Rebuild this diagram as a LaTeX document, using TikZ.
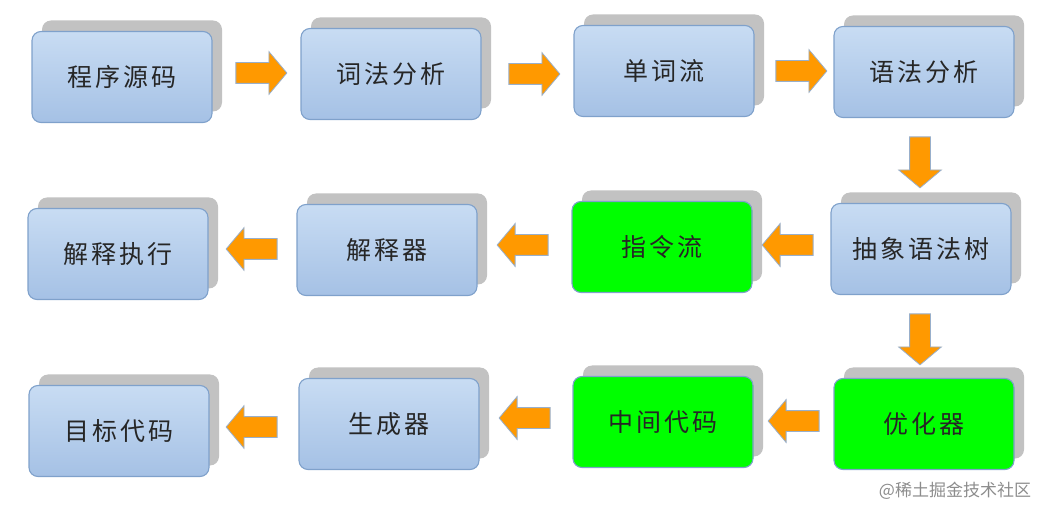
\documentclass[tikz,border=0pt]{standalone}
\usepackage{fontspec}
\newfontfamily\cjk[LetterSpace=12]{Noto Sans CJK SC}
\newfontfamily\cjkplain{Noto Sans CJK SC}
\usetikzlibrary{shapes.arrows,shadows,calc}
\definecolor{boxtop}{HTML}{C8DCF3}
\definecolor{boxbot}{HTML}{A5C1E5}
\definecolor{boxline}{HTML}{7FA1CB}
\definecolor{shadowgray}{HTML}{C2C2C2}
\definecolor{arrfill}{HTML}{FF9900}
\definecolor{arrline}{HTML}{98AFCB}
\definecolor{greenbox}{HTML}{00FF00}
\tikzset{
  stage/.style={rounded corners=9pt, minimum width=180pt, minimum height=91pt,
    draw=boxline, line width=1.1pt, top color=boxtop, bottom color=boxbot,
    font=\cjk\fontsize{25}{28}\selectfont, text=black!85,
    general shadow={shadow xshift=10pt, shadow yshift=11pt, fill=shadowgray, draw=none}},
  hot/.style={stage, fill=greenbox, top color=greenbox, bottom color=greenbox},
  blockarrow/.style={single arrow, draw=arrline, fill=arrfill, line width=0.8pt,
    minimum height=51pt, inner sep=10pt, single arrow head extend=11pt,
    single arrow tip angle=100},
  toright/.style={blockarrow},
  toleft/.style={blockarrow, shape border rotate=180},
  todown/.style={blockarrow, shape border rotate=270},
}
\begin{document}
\begin{tikzpicture}[x=1pt,y=-1pt]
\useasboundingbox (0,0) rectangle (1052,518);
% row 1
\node[stage] (src) at (122,77) {程序源码};
\node[stage] (lex) at (391,74) {词法分析};
\node[stage] (tok) at (664,71) {单词流};
\node[stage] (syn) at (924,72) {语法分析};
% row 2
\node[stage] (run) at (118,254) {解释执行};
\node[stage] (itp) at (387,250) {解释器};
\node[hot]   (ins) at (662,247) {指令流};
\node[stage] (ast) at (921,249) {抽象语法树};
% row 3
\node[stage] (obj) at (119,431) {目标代码};
\node[stage] (gen) at (389,424) {生成器};
\node[hot]   (mid) at (663,422) {中间代码};
\node[hot]   (opt) at (924,424) {优化器};
% arrows
\node[toright] (a1) at (257,73) {};
\node[toright] (a2) at (530,74) {};
\node[toright] (a3) at (797,71) {};
\node[todown]  (a4) at (920,158) {};
\node[toleft]  (a5) at (792,245) {};
\node[toleft]  (a6) at (527,245) {};
\node[toleft]  (a7) at (256,249) {};
\node[todown]  (a8) at (920,335) {};
\node[toleft]  (a9) at (798,421) {};
\node[toleft]  (a10) at (529,418) {};
\node[toleft]  (a11) at (256,427) {};
% watermark
\node[font=\cjkplain\fontsize{17}{20}\selectfont, text=black!45] (wm) at (955,491) {@稀土掘金技术社区};
\end{tikzpicture}
\end{document}
